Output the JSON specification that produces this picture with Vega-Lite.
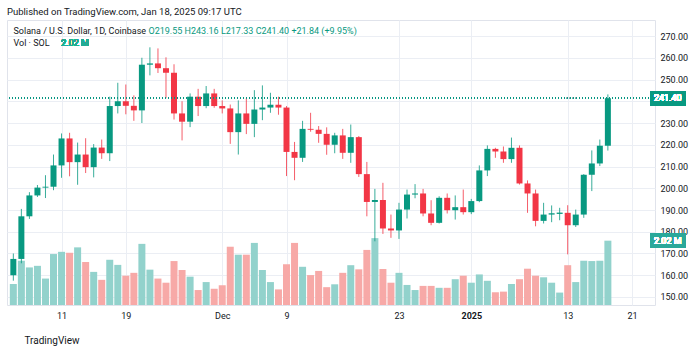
{
  "$schema": "https://vega.github.io/schema/vega-lite/v6.json",
  "width": 648,
  "height": 285,
  "autosize": "none",
  "padding": {"left": 7, "top": 20, "right": 45, "bottom": 46},
  "background": "#ffffff",
  "config": {"font": "Roboto", "view": {"stroke": "#E0E3EB"}},
  "title": {"text": "Published on TradingView.com, Jan 18, 2025 09:17 UTC", "anchor": "start", "frame": "group", "fontSize": 9.5, "fontWeight": "normal", "color": "#131722", "offset": 4},
  "data": {"values": [
    {"d": "2024-11-05", "o": 160, "h": 170, "l": 157.5, "c": 167.5, "v": 0.66},
    {"d": "2024-11-06", "o": 167.5, "h": 190.5, "l": 165.5, "c": 187.1, "v": 1.39},
    {"d": "2024-11-07", "o": 187.1, "h": 198.2, "l": 185.9, "c": 196.7, "v": 1.18},
    {"d": "2024-11-08", "o": 196.7, "h": 201.5, "l": 196, "c": 200.3, "v": 1.23},
    {"d": "2024-11-09", "o": 200.3, "h": 206, "l": 195.5, "c": 200.7, "v": 0.83},
    {"d": "2024-11-10", "o": 200.7, "h": 215.5, "l": 199.1, "c": 210.5, "v": 1.60},
    {"d": "2024-11-11", "o": 210.5, "h": 225.2, "l": 204.8, "c": 222.9, "v": 1.67},
    {"d": "2024-11-12", "o": 222.9, "h": 225.5, "l": 205.5, "c": 212, "v": 1.64},
    {"d": "2024-11-13", "o": 212, "h": 221, "l": 201.6, "c": 215.5, "v": 1.81},
    {"d": "2024-11-14", "o": 215.5, "h": 223, "l": 207, "c": 209.7, "v": 1.35},
    {"d": "2024-11-15", "o": 209.7, "h": 220.3, "l": 205, "c": 218.7, "v": 1.04},
    {"d": "2024-11-16", "o": 218.7, "h": 222.4, "l": 213.5, "c": 216.1, "v": 0.79},
    {"d": "2024-11-17", "o": 216.1, "h": 242.1, "l": 212.5, "c": 237.8, "v": 1.42},
    {"d": "2024-11-18", "o": 237.8, "h": 248.5, "l": 234.4, "c": 240, "v": 1.26},
    {"d": "2024-11-19", "o": 240, "h": 247.7, "l": 234, "c": 237.9, "v": 0.92},
    {"d": "2024-11-20", "o": 237.9, "h": 242.7, "l": 231, "c": 235.8, "v": 1.01},
    {"d": "2024-11-21", "o": 235.8, "h": 260, "l": 230, "c": 256.8, "v": 1.92},
    {"d": "2024-11-22", "o": 256.8, "h": 264.8, "l": 251.9, "c": 257.4, "v": 1.11},
    {"d": "2024-11-23", "o": 257.4, "h": 264.3, "l": 253, "c": 255.2, "v": 0.83},
    {"d": "2024-11-24", "o": 255.2, "h": 260.2, "l": 241.4, "c": 253.1, "v": 0.70},
    {"d": "2024-11-25", "o": 253.1, "h": 257, "l": 231.6, "c": 234.4, "v": 1.38},
    {"d": "2024-11-26", "o": 234.4, "h": 240, "l": 222, "c": 230.6, "v": 1.10},
    {"d": "2024-11-27", "o": 230.6, "h": 243.6, "l": 228.1, "c": 242.1, "v": 0.89},
    {"d": "2024-11-28", "o": 242.1, "h": 245.7, "l": 233.2, "c": 237.8, "v": 0.47},
    {"d": "2024-11-29", "o": 237.8, "h": 247, "l": 236.8, "c": 243.6, "v": 0.72},
    {"d": "2024-11-30", "o": 243.6, "h": 245.7, "l": 237, "c": 237.8, "v": 0.51},
    {"d": "2024-12-01", "o": 237.8, "h": 240.4, "l": 234.4, "c": 236.7, "v": 0.62},
    {"d": "2024-12-02", "o": 236.7, "h": 238.5, "l": 220.4, "c": 225.8, "v": 1.83},
    {"d": "2024-12-03", "o": 225.8, "h": 240.4, "l": 215.5, "c": 234.4, "v": 1.58},
    {"d": "2024-12-04", "o": 234.4, "h": 241.3, "l": 224.9, "c": 229.6, "v": 1.58},
    {"d": "2024-12-05", "o": 229.6, "h": 245.1, "l": 223.5, "c": 236.2, "v": 1.95},
    {"d": "2024-12-06", "o": 236.2, "h": 247.3, "l": 231.3, "c": 237.1, "v": 1.10},
    {"d": "2024-12-07", "o": 237.1, "h": 243.9, "l": 234.7, "c": 238.4, "v": 0.72},
    {"d": "2024-12-08", "o": 238.4, "h": 242.1, "l": 233.8, "c": 237.1, "v": 0.49},
    {"d": "2024-12-09", "o": 237.1, "h": 237.8, "l": 205.6, "c": 216.7, "v": 1.28},
    {"d": "2024-12-10", "o": 216.7, "h": 221.3, "l": 203.7, "c": 214, "v": 1.95},
    {"d": "2024-12-11", "o": 214, "h": 231, "l": 212.1, "c": 227.3, "v": 1.20},
    {"d": "2024-12-12", "o": 227.3, "h": 234.7, "l": 226, "c": 226.9, "v": 0.94},
    {"d": "2024-12-13", "o": 226.9, "h": 228.6, "l": 220.9, "c": 225, "v": 1.07},
    {"d": "2024-12-14", "o": 225, "h": 228, "l": 215.4, "c": 220, "v": 0.56},
    {"d": "2024-12-15", "o": 220, "h": 225.5, "l": 216.1, "c": 224.3, "v": 0.65},
    {"d": "2024-12-16", "o": 224.3, "h": 227.3, "l": 213.5, "c": 216.3, "v": 1.01},
    {"d": "2024-12-17", "o": 216.3, "h": 229.3, "l": 211.7, "c": 223.5, "v": 1.25},
    {"d": "2024-12-18", "o": 223.5, "h": 224, "l": 205.2, "c": 206.5, "v": 1.12},
    {"d": "2024-12-19", "o": 206.5, "h": 212.1, "l": 187.1, "c": 193.7, "v": 1.73},
    {"d": "2024-12-20", "o": 193.7, "h": 199.7, "l": 175.6, "c": 194.6, "v": 2.10},
    {"d": "2024-12-21", "o": 194.6, "h": 202.5, "l": 179, "c": 181.5, "v": 1.13},
    {"d": "2024-12-22", "o": 181.5, "h": 187.9, "l": 177.2, "c": 180.6, "v": 0.70},
    {"d": "2024-12-23", "o": 180.6, "h": 193.3, "l": 176.7, "c": 190.2, "v": 1.01},
    {"d": "2024-12-24", "o": 190.2, "h": 199.4, "l": 186.1, "c": 197.1, "v": 0.63},
    {"d": "2024-12-25", "o": 197.1, "h": 201.9, "l": 195.4, "c": 197.6, "v": 0.47},
    {"d": "2024-12-26", "o": 197.6, "h": 199.7, "l": 187.1, "c": 188.4, "v": 0.60},
    {"d": "2024-12-27", "o": 188.4, "h": 194.5, "l": 183, "c": 184.1, "v": 0.60},
    {"d": "2024-12-28", "o": 184.1, "h": 196.3, "l": 183.8, "c": 195.6, "v": 0.54},
    {"d": "2024-12-29", "o": 195.6, "h": 197.6, "l": 188.4, "c": 189.9, "v": 0.54},
    {"d": "2024-12-30", "o": 189.9, "h": 196.7, "l": 185.6, "c": 191.3, "v": 0.81},
    {"d": "2024-12-31", "o": 191.3, "h": 199.4, "l": 187.9, "c": 189, "v": 0.92},
    {"d": "2025-01-01", "o": 189, "h": 195.1, "l": 188.1, "c": 194.1, "v": 0.70},
    {"d": "2025-01-02", "o": 194.1, "h": 210.5, "l": 193.6, "c": 208.2, "v": 0.96},
    {"d": "2025-01-03", "o": 208.2, "h": 219.7, "l": 205.6, "c": 218.1, "v": 0.76},
    {"d": "2025-01-04", "o": 218.1, "h": 218.6, "l": 214, "c": 216.9, "v": 0.40},
    {"d": "2025-01-05", "o": 216.9, "h": 219.2, "l": 211.7, "c": 213.4, "v": 0.42},
    {"d": "2025-01-06", "o": 213.4, "h": 223.3, "l": 211.7, "c": 218.6, "v": 0.66},
    {"d": "2025-01-07", "o": 218.6, "h": 219.7, "l": 201.7, "c": 202.2, "v": 0.81},
    {"d": "2025-01-08", "o": 202.2, "h": 203.6, "l": 188.7, "c": 197.6, "v": 1.14},
    {"d": "2025-01-09", "o": 197.6, "h": 199.4, "l": 182.5, "c": 185, "v": 0.92},
    {"d": "2025-01-10", "o": 185, "h": 193.3, "l": 183.8, "c": 187.9, "v": 0.87},
    {"d": "2025-01-11", "o": 187.9, "h": 192.1, "l": 184.4, "c": 188.5, "v": 0.70},
    {"d": "2025-01-12", "o": 188.2, "h": 191, "l": 185.3, "c": 188.8, "v": 0.39},
    {"d": "2025-01-13", "o": 188.7, "h": 192.2, "l": 169.6, "c": 183, "v": 1.25},
    {"d": "2025-01-14", "o": 183, "h": 190.2, "l": 182.2, "c": 187.9, "v": 0.72},
    {"d": "2025-01-15", "o": 187.9, "h": 206.5, "l": 186.4, "c": 206.2, "v": 1.39},
    {"d": "2025-01-16", "o": 206.2, "h": 217.4, "l": 198.7, "c": 211.4, "v": 1.38},
    {"d": "2025-01-17", "o": 211.4, "h": 222.4, "l": 210.2, "c": 219.55, "v": 1.39},
    {"d": "2025-01-18", "o": 219.55, "h": 243.16, "l": 217.33, "c": 241.4, "v": 2.02}
  ]},
  "layer": [
    {
      "layer": [
        {
          "mark": {"type": "bar", "size": 7, "clip": true},
          "encoding": {
            "x": {"field": "d", "type": "temporal",
              "scale": {"type": "utc", "domain": [1730750400000, 1737611424000]},
              "axis": {
                "values": [1731283200000, 1731974400000, 1733011200000, 1733702400000, 1734912000000, 1735689600000, 1736726400000, 1737417600000],
                "tickCount": 30,
                "labelExpr": "utcdate(datum.value) == 1 ? (utcmonth(datum.value) == 0 ? utcFormat(datum.value, '%Y') : utcFormat(datum.value, '%b')) : utcFormat(datum.value, '%-d')",
                "labelFontWeight": {"condition": {"test": "utcdate(datum.value) == 1 && utcmonth(datum.value) == 0", "value": "bold"}, "value": "normal"},
                "labelFontSize": 9, "labelColor": "#131722", "labelPadding": 6,
                "labelOverlap": false, "labelFlush": false,
                "ticks": false, "domain": false,
                "grid": true, "gridColor": "#EBEEF4", "gridWidth": 1,
                "title": "TradingView", "titleX": 17, "titleY": 35, "titleAlign": "left", "titleBaseline": "middle", "titleAngle": 0,
                "titleFontSize": 10, "titleFontWeight": "normal", "titleColor": "#131722"
              }},
            "y": {"field": "v", "type": "quantitative",
              "scale": {"domain": [0, 8.95], "nice": false, "zero": true},
              "axis": {
                "orient": "left", "labels": false, "ticks": false, "domain": false, "grid": false,
                "title": ["Solana / U.S. Dollar, 1D, Coinbase", "Vol · SOL"],
                "titleX": 6, "titleY": 13.7, "titleAngle": 0, "titleAlign": "left", "titleBaseline": "alphabetic",
                "titleLineHeight": 12.2, "titleFontSize": 9, "titleFontWeight": "normal", "titleColor": "#131722"
              }},
            "color": {"condition": {"test": "datum.c >= datum.o", "value": "#92D2CC"}, "value": "#F7A9A7"}
          }
        },
        {
          "mark": {"type": "rect", "color": "#2BA89A", "clip": false},
          "encoding": {
            "x": {"datum": 1737611424000, "type": "temporal"},
            "x2": {"datum": 1737992600000},
            "y": {"datum": 1.80, "type": "quantitative"},
            "y2": {"datum": 2.24}
          }
        },
        {
          "mark": {"type": "text", "color": "#ffffff", "fontSize": 9, "align": "center", "baseline": "middle", "clip": false},
          "encoding": {
            "x": {"datum": 1737802012000, "type": "temporal"},
            "y": {"datum": 2.02, "type": "quantitative"},
            "text": {"value": "2.02 M"}
          }
        }
      ]
    },
    {
      "layer": [
        {
          "mark": {"type": "rule", "strokeWidth": 1, "opacity": 0.8, "clip": true},
          "encoding": {
            "x": {"field": "d", "type": "temporal"},
            "y": {"field": "l", "type": "quantitative",
              "scale": {"domain": [146.32, 277.36], "nice": false, "zero": false},
              "axis": {
                "orient": "right",
                "values": [150, 160, 170, 180, 190, 200, 210, 220, 230, 240, 250, 260, 270],
                "tickCount": 30,
                "format": ".2f",
                "labelOpacity": {"condition": {"test": "datum.value == 240", "value": 0}, "value": 1},
                "labelFontSize": 9, "labelColor": "#131722", "labelPadding": 5,
                "labelOverlap": false, "labelFlush": false, "labelBound": false,
                "ticks": false, "domain": false,
                "grid": true, "gridColor": "#EBEEF4", "gridWidth": 1,
                "title": "O219.55 H243.16 L217.33 C241.40 +21.84 (+9.95%)",
                "titleX": -507, "titleY": 10.5, "titleAngle": 0, "titleAlign": "left", "titleBaseline": "middle",
                "titleFontSize": 9, "titleFontWeight": "normal", "titleColor": "#089981"
              }},
            "y2": {"field": "h"},
            "color": {"condition": {"test": "datum.c >= datum.o", "value": "#089981"}, "value": "#F23645"}
          }
        },
        {
          "mark": {"type": "bar", "size": 6, "clip": true},
          "encoding": {
            "x": {"field": "d", "type": "temporal"},
            "y": {"field": "o", "type": "quantitative",
              "axis": {
                "orient": "right",
                "values": [150, 160, 170, 180, 190, 200, 210, 220, 230, 240, 250, 260, 270],
                "tickCount": 30,
                "format": ".2f",
                "labelOpacity": {"condition": {"test": "datum.value == 240", "value": 0}, "value": 1},
                "labelFontSize": 9, "labelColor": "#131722", "labelPadding": 5,
                "labelOverlap": false, "labelFlush": false, "labelBound": false,
                "ticks": false, "domain": false,
                "grid": true, "gridColor": "#EBEEF4", "gridWidth": 1,
                "title": "O219.55 H243.16 L217.33 C241.40 +21.84 (+9.95%)",
                "titleX": -507, "titleY": 10.5, "titleAngle": 0, "titleAlign": "left", "titleBaseline": "middle",
                "titleFontSize": 9, "titleFontWeight": "normal", "titleColor": "#089981"
              }},
            "y2": {"field": "c"},
            "color": {"condition": {"test": "datum.c >= datum.o", "value": "#089981"}, "value": "#F23645"}
          }
        },
        {
          "mark": {"type": "rule", "color": "#089981", "strokeDash": [1, 2], "strokeWidth": 1, "opacity": 0.7},
          "encoding": {
            "y": {"datum": 241.4, "type": "quantitative"}
          }
        },
        {
          "mark": {"type": "rect", "color": "#089981", "clip": false},
          "encoding": {
            "x": {"datum": 1737611424000, "type": "temporal"},
            "x2": {"datum": 1737992600000},
            "y": {"datum": 238.2, "type": "quantitative"},
            "y2": {"datum": 244.6}
          }
        },
        {
          "mark": {"type": "text", "color": "#ffffff", "fontSize": 9, "align": "center", "baseline": "middle", "clip": false},
          "encoding": {
            "x": {"datum": 1737802012000, "type": "temporal"},
            "y": {"datum": 241.4, "type": "quantitative"},
            "text": {"value": "241.40"}
          }
        },
        {
          "mark": {"type": "text", "color": "#22AB94", "fontSize": 9, "align": "left", "baseline": "middle"},
          "encoding": {
            "x": {"datum": 1731279818000, "type": "temporal"},
            "y": {"datum": 266.9, "type": "quantitative"},
            "text": {"value": "2.02 M"}
          }
        }
      ]
    }
  ],
  "resolve": {"scale": {"y": "independent"}}
}
